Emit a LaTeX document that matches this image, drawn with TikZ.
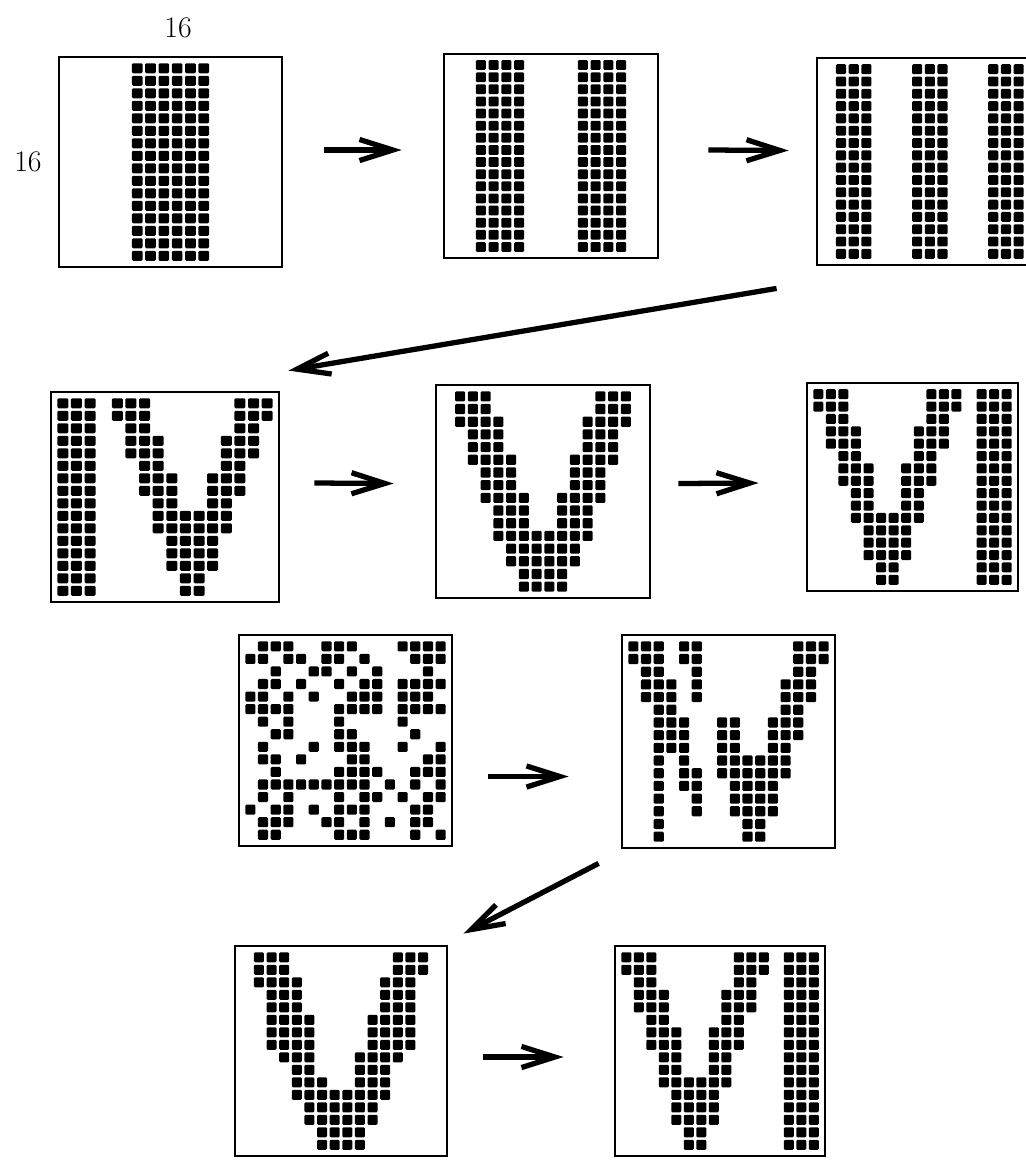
\documentclass[tikz,border=0pt]{standalone}
\usepackage{tikz}
\usetikzlibrary{calc,arrows.meta,fit}

% bit patterns: one group per row (top first), each run written start/end
\newcommand*\patStripe{{5/10},{5/10},{5/10},{5/10},{5/10},{5/10},{5/10},{5/10},
  {5/10},{5/10},{5/10},{5/10},{5/10},{5/10},{5/10},{5/10}}
\newcommand*\patTwo{{2/5,10/13},{2/5,10/13},{2/5,10/13},{2/5,10/13},{2/5,10/13},
  {2/5,10/13},{2/5,10/13},{2/5,10/13},{2/5,10/13},{2/5,10/13},{2/5,10/13},
  {2/5,10/13},{2/5,10/13},{2/5,10/13},{2/5,10/13},{2/5,10/13}}
\newcommand*\patThree{{1/3,7/9,13/15},{1/3,7/9,13/15},{1/3,7/9,13/15},{1/3,7/9,13/15},
  {1/3,7/9,13/15},{1/3,7/9,13/15},{1/3,7/9,13/15},{1/3,7/9,13/15},{1/3,7/9,13/15},
  {1/3,7/9,13/15},{1/3,7/9,13/15},{1/3,7/9,13/15},{1/3,7/9,13/15},{1/3,7/9,13/15},
  {1/3,7/9,13/15},{1/3,7/9,13/15}}
\newcommand*\patBarV{{0/2,4/6,13/15},{0/2,4/6,13/15},{0/2,5/6,13/14},{0/2,5/7,12/14},
  {0/2,5/7,12/14},{0/2,6/7,12/13},{0/2,6/8,11/13},{0/2,6/8,11/13},{0/2,7/8,11/12},
  {0/2,7/12},{0/2,7/12},{0/2,8/11},{0/2,8/11},{0/2,8/11},{0/2,9/10},{0/2,9/10}}
\newcommand*\patV{{1/3,12/14},{1/3,12/14},{1/4,11/14},{2/4,11/13},{2/4,11/13},
  {2/5,10/13},{3/5,10/12},{3/5,10/12},{3/6,9/12},{4/6,9/11},{4/6,9/11},{4/11},
  {5/10},{5/10},{6/9},{6/9}}
\newcommand*\patVBar{{0/2,9/11,13/15},{0/2,9/11,13/15},{1/2,9/10,13/15},{1/3,8/10,13/15},
  {1/3,8/10,13/15},{2/3,8/9,13/15},{2/4,7/9,13/15},{2/4,7/9,13/15},{3/4,7/8,13/15},
  {3/4,7/8,13/15},{3/8,13/15},{4/7,13/15},{4/7,13/15},{4/7,13/15},{5/6,13/15},{5/6,13/15}}
\newcommand*\patNoise{{1/3,6/8,12/15},{0/1,3/4,6/7,9/9,13/15},{2/2,5/6,8/8,10/10,14/14},
  {1/2,4/4,7/7,9/10,12/15},{0/1,3/3,5/5,8/10,12/14},{0/3,7/10,12/15},{1/1,3/3,7/7,12/12},
  {2/3,7/8,13/13},{1/1,5/5,7/9,12/12,15/15},{1/2,4/4,8/9,14/15},{2/2,7/10,13/15},
  {1/9,11/11,13/13,15/15},{1/1,3/3,7/7,9/10,12/12,14/15},{0/0,2/3,5/5,7/9,13/14},
  {1/3,6/7,9/9,11/11,13/14},{1/2,7/9,13/13,15/15}}
\newcommand*\patMixed{{0/2,4/5,13/15},{0/2,4/5,13/15},{1/2,5/5,13/14},{1/3,5/5,12/14},
  {1/3,5/5,12/14},{2/3,12/13},{2/4,7/8,11/13},{2/4,7/8,11/13},{2/4,7/8,11/12},
  {2/2,4/4,7/12},{2/2,4/5,7/12},{2/2,4/5,8/11},{2/2,5/5,8/11},{2/2,5/5,8/11},
  {2/2,9/10},{2/2,9/10}}
\newcommand*\patVRecall{{1/3,12/14},{1/3,12/14},{1/4,11/13},{2/4,11/13},{2/4,11/13},
  {2/5,10/13},{2/5,10/13},{2/5,10/13},{3/5,9/12},{4/5,9/11},{4/6,9/11},{4/11},
  {5/10},{5/10},{6/9},{6/9}}

% \pixgrid{name}{x0}{y0}{x1}{y1}{pattern}, cells inset 5 units from the frame
\newcommand\pixgrid[6]{%
  \node[gridbox,fit={(#2,#3)(#4,#5)}] (#1) {};
  \pgfmathsetmacro\cellw{(#4-#2-10)/16}
  \pgfmathsetmacro\cellh{(#5-#3-10)/16}
  \foreach \row [count=\r from 0] in #6 {
    \foreach \a/\b in \row {
      \foreach \c in {\a,...,\b}
        \fill[pix] ({#2+5+\cellw*(\c+0.1)},{#3+5+\cellh*(\r+0.1)})
          rectangle ++({0.8*\cellw},{0.8*\cellh});
    }
  }
}

\begin{document}
\begin{tikzpicture}[x=0.02cm,y=-0.02cm,
  gridbox/.style={draw,line width=1.6pt,inner sep=0pt},
  pix/.style={fill=black,rounded corners=0.7pt},
  lbl/.style={font=\fontsize{17}{19}\selectfont},
  arr/.style={-{Straight Barb[length=19pt,width=12pt]},line width=3pt}]
  \useasboundingbox (0,0) rectangle (1026,1161);
  \clip (0,0) rectangle (1026,1161);

  % row 1: stripes
  \pixgrid{s1}{59}{57}{282}{267}{\patStripe}
  \pixgrid{s2}{444}{54}{658}{258}{\patTwo}
  \pixgrid{s3}{817}{58}{1030}{265}{\patThree}
  \node[lbl] (top) at (178,28) {16};
  \node[lbl] (side) at (28,162) {16};

  % row 2
  \pixgrid{v1}{51}{392}{279}{602}{\patBarV}
  \pixgrid{v2}{436}{385}{650}{598}{\patV}
  \pixgrid{v3}{807}{383}{1018}{591}{\patVBar}

  % row 3: noisy cue
  \pixgrid{n1}{239}{635}{452}{846}{\patNoise}
  \pixgrid{n2}{622}{635}{835}{848}{\patMixed}

  % row 4
  \pixgrid{r1}{235}{946}{447}{1156}{\patVRecall}
  \pixgrid{r2}{615}{946}{825}{1156}{\patVBar}

  \draw[arr] ($(s1.east)+(41,-12)$) -- ($(s2.west)+(-41,-6)$);
  \draw[arr] ($(s2.east)+(49,-6)$) -- ($(s3.west)+(-27,-11)$);
  \draw[arr] ($(s3.south west)+(-39,22)$) -- ($(v1.north east)+(8,-20)$);
  \draw[arr] ($(v1.east)+(34,-14)$) -- ($(v2.west)+(-41,-8)$);
  \draw[arr] ($(v2.east)+(27,-8)$) -- ($(v3.west)+(-47,-4)$);
  \draw[arr] ($(n1.east)+(35,36)$) -- ($(n2.west)+(-52,35)$);
  \draw[arr] ($(n2.south west)+(-22,14)$) -- ($(r1.north east)+(15,-11)$);
  \draw[arr] ($(r1.east)+(35,6)$) -- ($(r2.west)+(-50,6)$);
\end{tikzpicture}
\end{document}
